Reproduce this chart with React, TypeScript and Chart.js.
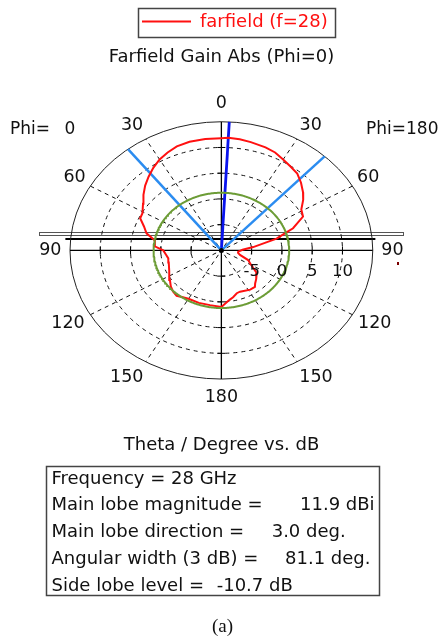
import React, { useEffect, useRef } from "react";
import { Chart, registerables } from "chart.js";
Chart.register(...registerables);

// ---- data (signed theta: negative = Phi 0 side (left), positive = Phi 180 side (right)) ----
const thetaDeg = [
  -180, -170, -160, -150, -145, -140, -135, -130, -124, -115, -105, -100, -95, -90, -86, -80,
  -75, -70, -65, -61, -55, -50, -45, -40, -35, -30, -25, -20, -14, -7, 0, 3, 8, 13, 20, 25, 30,
  35, 40, 45, 50, 54, 59, 64, 70, 72, 76, 78, 83, 88, 95, 100, 106, 113, 118, 127, 134, 139, 142,
  148, 155, 159, 163, 168, 172, 178, 180,
];
const gainDb = [
  1.0, 0.8, 0.85, 0.85, 1.1, 1.5, 1.3, 0.9, 0.25, -0.5, -1.0, -1.1, -0.8, -0.4, 1.0, 1.15,
  2.8, 3.6, 4.8, 4.9, 5.8, 6.8, 7.8, 8.7, 9.6, 10.4, 11.0, 11.5, 11.75, 11.8, 11.8, 11.9, 11.8, 11.6, 11.3, 11.0, 10.4,
  9.9, 9.5, 8.6, 7.6, 6.7, 5.4, 5.0, 2.6, 1.3, -0.6, -2.3, -4.7, -6.5, -7.2, -7.2, -6.8, -5.2, -4.6, -2.7, -2.0, -1.5, -1.0,
  -1.0, -1.3, -1.4, -1.3, -0.7, -0.3, 0.6, 1.0,
];
const dbMin = -10;
const dbMax = 15;
const ringDb = [-5, 0, 5, 10];
const ringLabels = ["-5", "0", "5", "10"];
const spokeDeg = [-150, -120, -60, -30, 30, 60, 120, 150];
const angleLabelDeg = [0, -30, 30, -60, 60, -90, 90, -120, 120, -150, 150, 180];
const angleLabels = ["0", "30", "30", "60", "60", "90", "90", "120", "120", "150", "150", "180"];
const mainLobeDirDeg = 3.0;
const beamEdgeDeg = [-38.1, 43.0];
const sideLobeThresholdDb = 1.2;
const legendLabel = "farfield (f=28)";
const titleText = "Farfield Gain Abs (Phi=0)";
const axisTitle = "Theta / Degree vs. dB";
const infoLabels = ["Frequency = 28 GHz", "Main lobe magnitude =", "Main lobe direction =", "Angular width (3 dB) =", "Side lobe level ="];
const infoValues = ["", "11.9 dBi", "3.0 deg.", "81.1 deg.", "-10.7 dB"];
const caption = "(a)";

const FONT = '"DejaVu Sans", Verdana, sans-serif';
const RED = "#ff1010";
const GREEN = "#6c9c36";
const LBLUE = "#2b8cf0";
const DBLUE = "#0a14ee";

const rad = (d: number) => (d * Math.PI) / 180;
const norm = (db: number) => (db - dbMin) / (dbMax - dbMin);
const toXY = (a: number, db: number) => ({ x: norm(db) * Math.sin(rad(a)), y: norm(db) * Math.cos(rad(a)) });

const redPts = thetaDeg.map((t, i) => toXY(t, gainDb[i]));
const circleDeg = Array.from({ length: 361 }, (_, i) => i - 180);
const greenPts = circleDeg.map((t) => toXY(t, sideLobeThresholdDb));
const rayPts = (a: number) => [{ x: 0, y: 0 }, toXY(a, dbMax)];

const polarPlugin = {
  id: "polarDecor",
  beforeDatasetsDraw(chart: any) {
    const { ctx } = chart;
    const xs = chart.scales.x, ys = chart.scales.y;
    const cx = xs.getPixelForValue(0), cy = ys.getPixelForValue(0);
    const rx = xs.getPixelForValue(1) - cx, ry = cy - ys.getPixelForValue(1);
    const P = (a: number, r: number) => [cx + rx * r * Math.sin(rad(a)), cy - ry * r * Math.cos(rad(a))];
    ctx.save();
    // artifacts bars
    ctx.strokeStyle = "#555";
    ctx.lineWidth = 1;
    ctx.strokeRect(Math.round(cx - 182) + 0.5, Math.round(cy - 18) + 0.5, 364, 3);
    ctx.strokeStyle = "#000";
    ctx.lineWidth = 2;
    ctx.beginPath();
    ctx.moveTo(cx - 156, Math.round(cy - 11));
    ctx.lineTo(cx + 154, Math.round(cy - 11));
    ctx.stroke();
    // dashed rings
    ctx.strokeStyle = "#111";
    ctx.lineWidth = 1;
    ctx.setLineDash([4, 4]);
    ringDb.forEach((db) => {
      const r = norm(db);
      ctx.beginPath();
      ctx.ellipse(cx, cy, rx * r, ry * r, 0, 0, Math.PI * 2);
      ctx.stroke();
    });
    // spokes
    spokeDeg.forEach((a) => {
      const [x1, y1] = P(a, 0.04);
      const [x2, y2] = P(a, 1);
      ctx.beginPath();
      ctx.moveTo(x1, y1);
      ctx.lineTo(x2, y2);
      ctx.stroke();
    });
    ctx.setLineDash([]);
    // outer ellipse
    ctx.strokeStyle = "#222";
    ctx.lineWidth = 1;
    ctx.beginPath();
    ctx.ellipse(cx, cy, rx, ry, 0, 0, Math.PI * 2);
    ctx.stroke();
    // axes
    ctx.strokeStyle = "#000";
    ctx.lineWidth = 1.3;
    ctx.beginPath();
    ctx.moveTo(cx, cy - ry);
    ctx.lineTo(cx, cy + ry);
    ctx.moveTo(cx - rx, cy);
    ctx.lineTo(cx + rx, cy);
    ctx.stroke();
    // ticks
    ctx.lineWidth = 1;
    ringDb.forEach((db) => {
      const r = norm(db);
      ctx.beginPath();
      ctx.moveTo(cx - rx * r, cy - 4);
      ctx.lineTo(cx - rx * r, cy + 4);
      ctx.moveTo(cx + rx * r, cy - 4);
      ctx.lineTo(cx + rx * r, cy + 4);
      ctx.moveTo(cx - 4, cy - ry * r);
      ctx.lineTo(cx + 4, cy - ry * r);
      ctx.moveTo(cx - 4, cy + ry * r);
      ctx.lineTo(cx + 4, cy + ry * r);
      ctx.stroke();
    });
    ctx.restore();
  },
  afterDatasetsDraw(chart: any) {
    const { ctx } = chart;
    const xs = chart.scales.x, ys = chart.scales.y;
    const cx = xs.getPixelForValue(0), cy = ys.getPixelForValue(0);
    const rx = xs.getPixelForValue(1) - cx, ry = cy - ys.getPixelForValue(1);
    ctx.save();
    // centre dot
    ctx.fillStyle = "#000";
    ctx.beginPath();
    ctx.arc(cx, cy, 2.5, 0, Math.PI * 2);
    ctx.fill();
    // artifact dot
    ctx.fillStyle = "#7a0000";
    ctx.fillRect(Math.round(cx + 176), Math.round(cy + 12), 2, 3);

    ctx.fillStyle = "#111";
    ctx.textBaseline = "middle";
    ctx.textAlign = "center";
    // angle labels
    ctx.font = `17.5px ${FONT}`;
    const kx: Record<string, number> = { "0": 1.14, "30": 1.18, "60": 1.12, "90": 1.13, "120": 1.17, "150": 1.25, "180": 1.14 };
    angleLabelDeg.forEach((a, i) => {
      const lab = angleLabels[i];
      const x = cx + rx * (kx[lab] || 1.14) * Math.sin(rad(a));
      const y = cy - ry * 1.14 * Math.cos(rad(a)) + (lab === "30" ? 2 : 0);
      ctx.fillText(lab, x, y);
    });
    // dB labels
    ctx.font = `16.5px ${FONT}`;
    ringDb.forEach((db, i) => {
      ctx.fillText(ringLabels[i], cx + rx * norm(db), cy + 21.5);
    });
    // Phi labels
    ctx.font = `17px ${FONT}`;
    ctx.textAlign = "left";
    ctx.fillText("Phi=", 10, 129.5);
    ctx.textAlign = "center";
    ctx.fillText("0", 70, 129.5);
    ctx.textAlign = "left";
    ctx.fillText("Phi=180", 366, 129.5);
    // title
    ctx.textAlign = "center";
    ctx.font = `18px ${FONT}`;
    ctx.fillText(titleText, 221.5, 57);
    ctx.fillText(axisTitle, 221.5, 445.5);
    // legend
    ctx.strokeStyle = "#444";
    ctx.lineWidth = 1.5;
    ctx.strokeRect(138.5, 8.5, 197, 29);
    ctx.strokeStyle = RED;
    ctx.lineWidth = 2;
    ctx.beginPath();
    ctx.moveTo(142, 21.5);
    ctx.lineTo(191, 21.5);
    ctx.stroke();
    ctx.fillStyle = RED;
    ctx.textAlign = "left";
    ctx.fillText(legendLabel, 200, 22.5);
    // info box
    ctx.strokeStyle = "#444";
    ctx.lineWidth = 1.5;
    ctx.strokeRect(46.5, 466.5, 333, 129);
    ctx.fillStyle = "#111";
    ctx.font = `18px ${FONT}`;
    const valX = [0, 300, 271.7, 285, 216.7];
    infoLabels.forEach((t, i) => {
      const y = 479 + i * 26.8;
      ctx.textAlign = "left";
      ctx.fillText(t, 51.5, y);
      if (infoValues[i]) ctx.fillText(infoValues[i], valX[i], y);
    });
    // caption
    ctx.font = `19px "Liberation Serif", "Times New Roman", serif`;
    ctx.textAlign = "center";
    ctx.fillText(caption, 222.5, 627);
    ctx.restore();
  },
};

export default function App() {
  const ref = useRef<HTMLCanvasElement>(null);
  useEffect(() => {
    const chart = new Chart(ref.current as HTMLCanvasElement, {
      type: "scatter",
      data: {
        datasets: [
          { data: greenPts, showLine: true, borderColor: GREEN, borderWidth: 2, pointRadius: 0, clip: false } as any,
          { data: redPts, showLine: true, borderColor: RED, borderWidth: 2, pointRadius: 0, clip: false } as any,
          { data: rayPts(beamEdgeDeg[0]), showLine: true, borderColor: LBLUE, borderWidth: 2.5, pointRadius: 0, clip: false } as any,
          { data: rayPts(beamEdgeDeg[1]), showLine: true, borderColor: LBLUE, borderWidth: 2.5, pointRadius: 0, clip: false } as any,
          { data: rayPts(mainLobeDirDeg), showLine: true, borderColor: DBLUE, borderWidth: 2.8, pointRadius: 0, clip: false } as any,
        ],
      },
      options: {
        animation: false,
        responsive: false,
        devicePixelRatio: 1,
        layout: { padding: { left: 70, right: 69.25, top: 121.75, bottom: 257.95 } },
        plugins: { legend: { display: false }, title: { display: false }, tooltip: { enabled: false } },
        events: [],
        scales: {
          x: { type: "linear", min: -1, max: 1, display: false },
          y: { type: "linear", min: -1, max: 1, display: false },
        },
      },
      plugins: [polarPlugin],
    });
    return () => chart.destroy();
  }, []);
  return (
    <div style={{ position: "absolute", left: 0, top: 0, width: 442, height: 637, background: "#fff" }}>
      <canvas ref={ref} width={442} height={637} style={{ display: "block" }} />
    </div>
  );
}
